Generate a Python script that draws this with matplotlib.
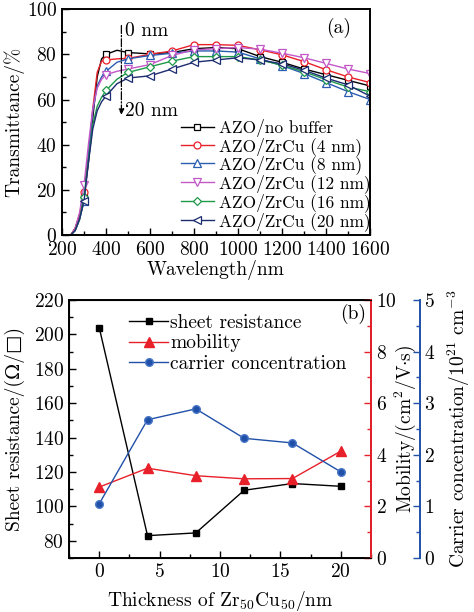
import numpy as np
import matplotlib
matplotlib.use('Agg')
import matplotlib.pyplot as plt
from matplotlib.ticker import MultipleLocator

plt.rcParams['font.family'] = ['cmr10', 'DejaVu Serif']
plt.rcParams['mathtext.fontset'] = 'cm'
plt.rcParams['axes.formatter.use_mathtext'] = True
plt.rcParams['font.size'] = 14

# ---- panel (a) data ----
wl = [200, 240, 260, 280, 300, 320, 340, 360, 380, 400, 450, 500, 600, 700, 800,
      900, 1000, 1100, 1200, 1300, 1400, 1500, 1600]
T_none = [0, 0, 3, 9, 17, 32, 52, 70, 78, 80, 81.8, 80.8, 80.2, 80.8, 82.5,
          83, 82.5, 79, 76.5, 73.5, 71, 68.5, 66]
T_4 = [0, 0, 3, 9, 19, 35, 56, 72, 77, 77.5, 78, 78.2, 80, 81.5, 84.3,
       84.3, 84, 82, 79.8, 76.8, 73.2, 70, 67.5]
T_8 = [0, 0, 2, 7, 15, 35, 55, 66, 70, 72.5, 76.5, 78, 79.5, 80.5, 81.5,
       81.5, 81, 78, 75, 71.5, 67.5, 63.5, 60]
T_12 = [0, 0, 3, 10, 22, 40, 56, 65, 69, 71, 72.5, 73.5, 75.5, 79.5, 82,
        82.5, 83, 82.3, 80.5, 78.5, 76, 73.5, 71.5]
T_16 = [0, 0, 2, 7, 17, 33, 49, 57, 61, 64, 69, 72, 74.5, 77, 79,
        79, 79, 77.5, 75.2, 72.3, 68.8, 65.5, 63.5]
T_20 = [0, 0, 2, 7, 15, 32, 47, 55, 59, 61.5, 67, 69.5, 70.5, 73.5, 76.5,
        77.5, 78.5, 77.5, 75.8, 73, 69.5, 66.5, 61.5]
labels_a = ['AZO/no buffer', 'AZO/ZrCu (4 nm)', 'AZO/ZrCu (8 nm)',
            'AZO/ZrCu (12 nm)', 'AZO/ZrCu (16 nm)', 'AZO/ZrCu (20 nm)']

# ---- panel (b) data ----
thick = [0, 4, 8, 12, 16, 20]
sheet_res = [204, 83, 84.6, 109.4, 113.3, 111.7]
mobility = [2.75, 3.48, 3.19, 3.07, 3.08, 4.14]
carrier = [1.05, 2.68, 2.89, 2.32, 2.23, 1.67]

fig = plt.figure(figsize=(4.74, 6.12), dpi=100)

# ================= (a) =================
ax = fig.add_axes([0.1308, 0.616, 0.6498, 0.369])
series = [T_none, T_4, T_8, T_12, T_16, T_20]
colors = ['black', '#e8202a', '#2a5cb0', '#c257c8', '#1f9a4a', '#1c2c70']
markers = ['s', 'o', '^', 'v', 'D', '<']
msizes = [4.5, 5, 5.5, 5.5, 4.5, 5.5]
mk = [i for i, w in enumerate(wl) if w >= 300 and w % 100 == 0]
for y, c, m, ms, lab in zip(series, colors, markers, msizes, labels_a):
    ax.plot(wl, y, color=c, lw=1.0, marker=m, markevery=mk, ms=ms,
            mfc='white', mec=c, mew=0.9, label=lab)

ax.set_xlim(200, 1600)
ax.set_ylim(0, 100)
ax.xaxis.set_major_locator(MultipleLocator(200))
ax.xaxis.set_minor_locator(MultipleLocator(100))
ax.yaxis.set_major_locator(MultipleLocator(20))
ax.yaxis.set_minor_locator(MultipleLocator(10))
ax.tick_params(which='both', direction='in', top=False, right=False)
ax.tick_params(which='major', length=5, width=1)
ax.tick_params(which='minor', length=3, width=1)
ax.tick_params(axis='x', pad=4)
for s in ax.spines.values():
    s.set_linewidth(1.4)
ax.set_xlabel('Wavelength/nm', labelpad=1)
ax.set_ylabel('Transmittance/%', labelpad=2)
ax.text(0.94, 0.96, '(a)', transform=ax.transAxes, ha='right', va='top')

# arrow 0 nm -> 20 nm
ax.annotate('', xy=(470, 52), xytext=(470, 94),
            arrowprops=dict(arrowstyle='-|>', color='black', lw=0.9,
                            linestyle='-.', mutation_scale=8))
ax.text(485, 90.5, '0 nm', ha='left', va='center')
ax.text(485, 55, '20 nm', ha='left', va='center')

ax.legend(loc='upper left', bbox_to_anchor=(0.385, 0.515), frameon=False,
          fontsize=12.5, handlelength=1.9, handletextpad=0.3, labelspacing=0.0,
          borderaxespad=0, borderpad=0)

# ================= (b) =================
bx = fig.add_axes([0.1456, 0.0882, 0.637, 0.4216])
l1, = bx.plot(thick, sheet_res, color='black', marker='s', ms=5, lw=1.0,
              label='sheet resistance')
bx.set_xlim(-2.5, 22.5)
bx.set_ylim(70, 220)
bx.xaxis.set_major_locator(MultipleLocator(5))
bx.xaxis.set_minor_locator(MultipleLocator(2.5))
bx.yaxis.set_major_locator(MultipleLocator(20))
bx.yaxis.set_minor_locator(MultipleLocator(10))
bx.tick_params(which='both', direction='in', top=False, right=False)
bx.tick_params(which='major', length=5, width=1)
bx.tick_params(which='minor', length=3, width=1)
bx.set_xlabel(r'Thickness of Zr$_{50}$Cu$_{50}$/nm', labelpad=6)
bx.set_ylabel('Sheet resistance/(\u03a9/\u25a1)', labelpad=6)
for s in bx.spines.values():
    s.set_linewidth(1.4)

red = '#e8202a'
blue = '#2050a8'
mx = bx.twinx()
l2, = mx.plot(thick, mobility, color=red, marker='^', ms=6.5, lw=1.0,
              label='mobility')
mx.set_ylim(0, 10)
mx.yaxis.set_major_locator(MultipleLocator(2))
mx.yaxis.set_minor_locator(MultipleLocator(1))
mx.tick_params(which='both', direction='in', colors='black')
mx.tick_params(which='both', color=red)
mx.tick_params(which='major', length=5, width=1)
mx.tick_params(which='minor', length=3, width=1)
mx.spines['right'].set_color(red)
mx.spines['right'].set_linewidth(1.4)
mx.set_ylabel(r'Mobility/(cm$^2$/V$\cdot$s)', labelpad=-3)

cx = bx.twinx()
cx.spines['right'].set_position(('outward', 35))
l3, = cx.plot(thick, carrier, color=blue, marker='o', ms=5.5, lw=1.0,
              mfc=blue, mec='#4a78c8', label='carrier concentration')
cx.set_ylim(0, 5)
cx.yaxis.set_major_locator(MultipleLocator(1))
cx.yaxis.set_minor_locator(MultipleLocator(0.5))
cx.tick_params(which='both', direction='in', color=blue)
cx.tick_params(which='major', length=5, width=1)
cx.tick_params(which='minor', length=3, width=1)
cx.spines['right'].set_color(blue)
cx.spines['right'].set_linewidth(1.4)
for k in ['top', 'left', 'bottom']:
    cx.spines[k].set_visible(False)
cx.set_ylabel(r'Carrier concentration/10$^{21}$ cm$^{-3}$', labelpad=7)

bx.text(0.985, 0.985, '(b)', transform=bx.transAxes, ha='right', va='top')
bx.legend(handles=[l1, l2, l3], loc='upper left', bbox_to_anchor=(0.199, 0.945),
          frameon=False, fontsize=14, handlelength=2.0, handletextpad=0.1,
          labelspacing=0.12, borderaxespad=0, borderpad=0)

fig.savefig('out.png', dpi=100)
